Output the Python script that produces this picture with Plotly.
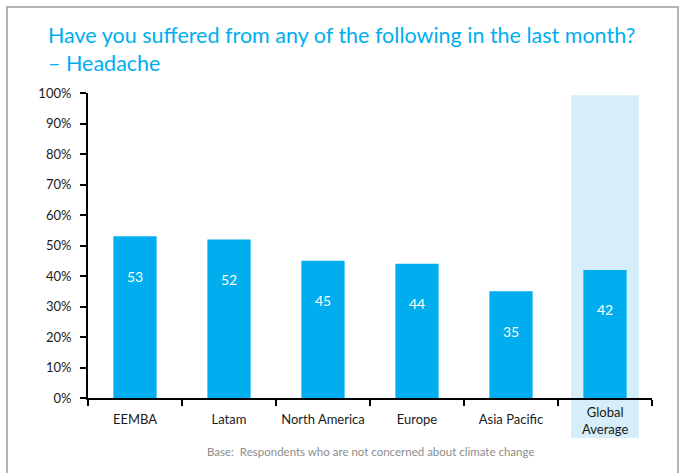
import plotly.graph_objects as go

regions = ["EEMBA", "Latam", "North America", "Europe", "Asia Pacific", "Global Average"]
region_labels = ["EEMBA", "Latam", "North America", "Europe", "Asia Pacific", ""]
headache = [53, 52, 45, 44, 35, 42]
y_ticks = [0, 10, 20, 30, 40, 50, 60, 70, 80, 90, 100]
y_labels = [f"{t}%" for t in y_ticks]

blue = "#00AEEF"
font_name = "Lato, 'Open Sans', sans-serif"

fig = go.Figure()
fig.add_trace(
    go.Bar(
        x=regions,
        y=headache,
        marker=dict(color=blue, line=dict(width=0)),
        width=0.46,
        hoverinfo="skip",
    )
)

# value labels sit a fixed distance below the top of each bar
for r, v in zip(regions, headache):
    fig.add_annotation(
        x=r, y=v, text=str(v), showarrow=False, yshift=-40,
        font=dict(color="white", size=14, family=font_name),
    )

# two-line label for the last column, under the axis inside the pale band
fig.add_annotation(
    x=regions[-1], xref="x", yref="paper", y=-(439 - 398) / 305,
    text="Global<br>Average", showarrow=False,
    font=dict(color="#1a1a1a", size=13, family=font_name),
)

# pale highlight behind the global average column
fig.add_shape(
    type="rect", xref="x", yref="paper",
    x0=4.64, x1=5.36, y0=-0.131, y1=0.993,
    fillcolor="#D5EEF9", line=dict(width=0), layer="below",
)

# frame round the whole picture
fig.add_shape(
    type="rect", xref="paper", yref="paper",
    x0=-81 / 564, x1=590 / 564, y0=-0.3, y1=(398 - 7) / 305,
    line=dict(color="#9a9a9a", width=1.5), fillcolor="rgba(0,0,0,0)",
)

# title, two lines, top-left
fig.add_annotation(
    xref="paper", yref="paper", x=(46 - 88) / 564, y=(398 - 20) / 305,
    xanchor="left", yanchor="top", align="left", showarrow=False,
    text="Have you suffered from any of the following in the last month?<br>– Headache",
    font=dict(color=blue, size=21.5, family=font_name),
)

fig.add_annotation(
    xref="paper", yref="paper", x=(370 - 88) / 564, y=-(460 - 398) / 305,
    text="Base:  Respondents who are not concerned about climate change",
    showarrow=False, font=dict(color="#8c8c8c", size=11.5, family=font_name),
)

fig.update_layout(
    width=681,
    height=473,
    margin=dict(l=88, r=29, t=93, b=75),
    paper_bgcolor="white",
    plot_bgcolor="rgba(0,0,0,0)",
    showlegend=False,
    font=dict(family=font_name, color="#1a1a1a", size=13),
)
fig.update_xaxes(
    tickvals=regions, ticktext=region_labels,
    showline=True, linecolor="black", linewidth=2, automargin=False,
    ticks="outside", tickson="boundaries", ticklen=6, tickwidth=1.5, tickcolor="black",
    showgrid=False, tickfont=dict(size=13), ticklabelstandoff=8,
)
fig.update_yaxes(
    range=[0, 100], tickvals=y_ticks, ticktext=y_labels, automargin=False,
    showline=True, linecolor="black", linewidth=2,
    ticks="outside", ticklen=6, tickwidth=1.5, tickcolor="black",
    showgrid=False, zeroline=False, tickfont=dict(size=13), ticklabelstandoff=6,
)

# the page's default body margin would push the figure 8px in
fig.write_html(
    "out.html",
    config={"displayModeBar": False},
    post_script="document.body.style.margin='0';",
)
